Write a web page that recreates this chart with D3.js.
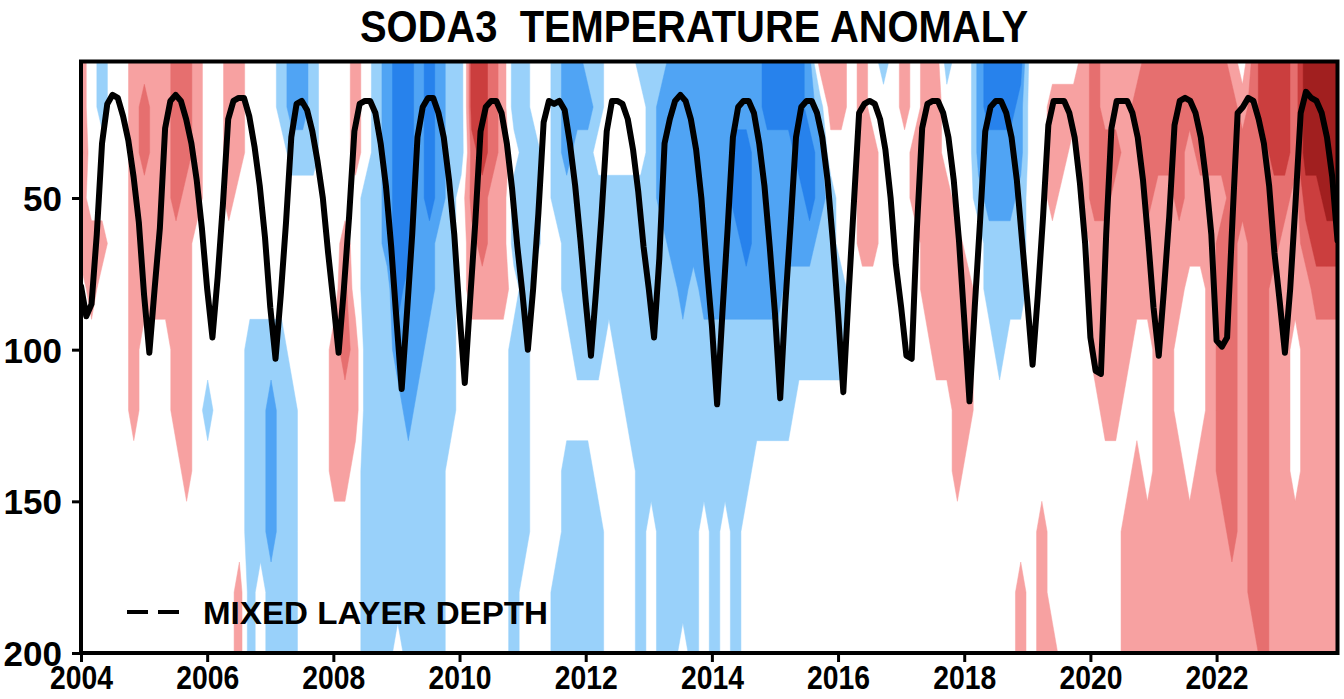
<!DOCTYPE html>
<html><head><meta charset="utf-8">
<script src="https://cdn.jsdelivr.net/npm/d3@7"></script>
<style>body{margin:0;background:#fff}svg{display:block}</style>
</head><body>
<svg id="c" width="1344" height="699"></svg>
<script>
// ---------------- DATA ----------------
const titleText = "SODA3  TEMPERATURE ANOMALY";
const legendText = "MIXED LAYER DEPTH";
const yearTicks = [2004, 2006, 2008, 2010, 2012, 2014, 2016, 2018, 2020, 2022];
const depthTicks = [50, 100, 150, 200];
const depths = [5, 20, 35, 50, 65, 80, 100, 120, 140, 160, 180, 200];

// Mixed layer depth (m), monthly Jan..Dec
const mld2004 = [79, 89, 85, 62, 32, 19, 16, 17, 23, 31, 43, 58];
const mld2005 = [82, 101, 80, 60, 27, 18, 16, 18, 24, 32, 44, 60];
const mld2006 = [80, 96, 76, 52, 24, 18, 17, 17, 23, 33, 46, 63];
const mld2007 = [86, 103, 82, 58, 30, 19, 18, 21, 28, 38, 50, 68];
const mld2008 = [84, 101, 80, 56, 28, 19, 18, 18, 22, 32, 46, 66];
const mld2009 = [90, 113, 88, 62, 30, 20, 17, 17, 22, 30, 44, 62];
const mld2010 = [88, 111, 84, 58, 28, 20, 18, 18, 22, 32, 47, 66];
const mld2011 = [82, 100, 80, 55, 25, 18, 19, 18, 21, 32, 46, 64];
const mld2012 = [84, 102, 80, 56, 28, 18, 18, 19, 24, 34, 48, 66];
const mld2013 = [80, 96, 70, 32, 24, 18, 16, 18, 24, 34, 50, 72];
const mld2014 = [92, 118, 88, 60, 30, 20, 18, 18, 22, 32, 46, 66];
const mld2015 = [88, 116, 84, 58, 30, 20, 18, 18, 22, 30, 44, 64];
const mld2016 = [88, 114, 82, 52, 22, 19, 18, 19, 24, 34, 50, 72];
const mld2017 = [86, 102, 103, 60, 27, 19, 18, 18, 22, 30, 44, 64];
const mld2018 = [90, 117, 86, 58, 28, 20, 18, 18, 22, 30, 44, 64];
const mld2019 = [84, 105, 82, 56, 26, 18, 18, 18, 22, 30, 45, 65];
const mld2020 = [96, 107, 108, 62, 27, 18, 18, 18, 22, 30, 44, 64];
const mld2021 = [86, 102, 80, 56, 26, 18, 17, 18, 22, 30, 44, 62];
const mld2022 = [97, 99, 96, 58, 22, 20, 17, 18, 24, 32, 46, 68];
const mld2023 = [84, 101, 80, 52, 22, 15, 17, 18, 22, 30, 43, 64];

// Temperature anomaly (0.1 °C), bimonthly profiles, each at depths[]
const anom2004 = [
 [4,4,6,4,4,0,0,0,0,0,0,0],[0,0,0,0,4,4,0,0,0,0,0,0],[-4,-4,0,0,4,0,0,0,0,0,0,0],
 [0,0,0,0,0,0,0,0,0,0,0,0],[0,0,0,0,0,0,0,0,0,0,0,0],[4,4,4,4,4,4,4,4,0,0,0,0]];
const anom2005 = [
 [4,6,6,4,4,4,0,0,0,0,0,0],[4,4,4,4,4,4,0,0,0,0,0,0],[4,4,4,4,4,4,0,0,0,0,0,0],
 [6,6,6,6,4,4,4,4,0,0,0,0],[6,6,6,4,4,4,4,4,4,0,0,0],[4,4,4,4,0,0,0,0,0,0,0,0]];
const anom2006 = [
 [0,0,0,0,0,0,0,-4,0,0,0,0],[0,0,0,0,0,0,0,0,0,0,0,0],[4,4,4,4,0,0,0,0,0,0,0,0],
 [4,4,4,0,0,0,0,0,0,0,4,4],[0,0,0,0,0,0,-4,-4,-4,-4,-4,-4],[0,0,0,0,0,0,-4,-4,-4,-4,0,0]];
const anom2007 = [
 [0,0,0,0,0,0,-4,-6,-6,-6,-4,-4],[-4,-4,0,0,0,0,-4,-4,-4,-4,-4,-4],[-6,-6,-4,0,0,0,0,-4,-4,-4,-4,-4],
 [-6,-6,-4,0,0,0,0,0,0,0,0,0],[-4,-4,-4,0,0,0,0,0,0,0,0,0],[0,0,0,0,0,0,0,0,0,0,0,0]];
const anom2008 = [
 [0,0,0,0,0,0,4,4,4,0,0,0],[0,0,0,0,4,6,6,4,4,0,0,0],[4,4,4,0,0,0,4,4,0,0,0,0],
 [0,0,0,-4,-4,-4,-4,-4,-4,-4,-4,-4],[-4,-4,-4,-4,-4,-4,-4,-4,-4,-4,-4,-4],[-6,-6,-6,-6,-6,-4,-4,-4,-4,-4,-4,-4]];
const anom2009 = [
 [-8,-8,-8,-8,-8,-8,-6,-4,-4,-4,-4,0],[-8,-8,-8,-8,-8,-6,-6,-6,-4,-4,-4,-4],[-6,-6,-6,-6,-6,-6,-6,-4,-4,-4,-4,-4],
 [-8,-8,-8,-8,-6,-6,-4,-4,-4,-4,-4,-4],[-6,-6,-6,-6,-4,-4,-4,-4,-4,-4,-4,-4],[-4,-4,-4,-4,-4,-4,-4,-4,0,0,0,0]];
const anom2010 = [
 [-4,-4,-4,0,0,0,0,0,0,0,0,0],[8,8,6,6,4,4,0,0,0,0,0,0],[8,8,8,6,6,4,0,0,0,0,0,0],
 [6,6,6,4,4,4,0,0,0,0,0,0],[4,4,4,4,4,4,0,0,0,0,0,0],[-4,-4,0,-4,-4,0,-4,-4,-4,-4,-4,-4]];
const anom2011 = [
 [-4,-4,-4,-4,-4,-4,-4,-4,-4,-4,0,0],[0,0,-4,-4,-4,0,0,0,0,0,0,0],[0,0,0,0,0,0,0,0,0,0,0,0],
 [-4,-4,-4,-4,0,0,0,0,0,0,-4,-4],[-6,-6,-6,-4,-4,-4,0,0,-4,-4,-4,-4],[-6,-6,-4,-4,-4,-4,-4,0,-4,-4,-4,-4]];
const anom2012 = [
 [-4,-6,-4,-4,-4,-4,-4,0,-4,-4,-4,-4],[-4,-4,0,-4,-4,-4,-4,0,0,-4,-4,-4],[0,0,0,-4,-4,-4,0,0,0,0,0,0],
 [0,0,0,-4,-4,-4,-4,0,0,0,0,0],[0,0,0,-4,-4,-4,-4,-4,0,0,0,0],[-4,0,0,-4,-4,-4,-4,-4,-4,-4,-4,-4]];
const anom2013 = [
 [-4,-4,-4,-4,-4,-4,-4,-4,-4,0,0,0],[-4,-6,-6,-6,-4,-4,-4,-4,-4,-4,-4,-4],[-6,-6,-6,-6,-6,-4,-4,-4,-4,-4,-4,-4],
 [-6,-6,-6,-6,-6,-6,-4,-4,-4,-4,-4,0],[-6,-6,-6,-6,-6,-4,-4,-4,-4,-4,-4,-4],[-6,-6,-6,-6,-6,-6,-4,-4,-4,0,0,0]];
const anom2014 = [
 [-6,-6,-6,-6,-6,-6,-4,-4,-4,-4,-4,-4],[-6,-6,-6,-6,-6,-6,-4,-4,-4,0,0,0],[-6,-6,-8,-8,-6,-6,-4,-4,-4,-4,-4,-4],
 [-6,-6,-8,-8,-8,-6,-4,-4,-4,0,0,0],[-6,-6,-6,-6,-6,-6,-4,-4,0,0,0,0],[-8,-8,-6,-6,-6,-6,-4,-4,0,0,0,0]];
const anom2015 = [
 [-8,-8,-6,-6,-6,-6,-4,-4,0,0,0,0],[-8,-8,-6,-6,-6,-4,-4,-4,0,0,0,0],[-8,-8,-8,-6,-6,-4,-4,0,0,0,0,0],
 [-6,-6,-8,-8,-6,-4,-4,0,0,0,0,0],[4,-4,-6,-6,-4,-4,-4,0,0,0,0,0],[4,4,0,-4,-4,-4,-4,0,0,0,0,0]];
const anom2016 = [
 [4,4,0,0,0,-4,-4,0,0,0,0,0],[0,0,0,0,0,0,0,0,0,0,0,0],[4,4,4,4,4,0,0,0,0,0,0,0],
 [0,0,4,4,4,0,0,0,0,0,0,0],[-4,0,0,0,0,0,0,0,0,0,0,0],[0,0,0,0,0,0,0,0,0,0,0,0]];
const anom2017 = [
 [4,4,0,0,0,0,0,0,0,0,0,0],[0,0,4,4,0,0,0,0,0,0,0,0],[4,4,4,4,4,4,0,0,0,0,0,0],
 [4,4,4,4,4,4,4,0,0,0,0,0],[-4,0,0,4,4,4,4,0,0,0,0,0],[0,0,0,0,4,4,4,4,4,0,0,0]];
const anom2018 = [
 [0,0,0,0,0,4,4,4,0,0,0,0],[-6,-6,-6,-4,0,0,0,0,0,0,0,0],[-8,-8,-6,-6,-4,-4,0,0,0,0,0,0],
 [-8,-8,-6,-6,-4,-4,-4,0,0,0,0,0],[-8,-8,-6,-6,-4,-4,0,0,0,0,0,0],[-8,-6,-6,-4,-4,-4,0,0,0,0,4,4]];
const anom2019 = [
 [0,0,0,0,0,0,0,0,0,0,0,0],[0,0,0,0,0,0,0,0,0,4,4,4],[0,4,4,4,0,0,0,0,0,0,0,4],
 [0,4,4,0,0,0,0,0,0,0,0,0],[0,4,0,0,0,0,0,0,0,0,0,0],[4,4,4,4,0,0,0,0,0,0,0,0]];
const anom2020 = [
 [6,6,6,6,4,4,4,0,0,0,0,0],[4,4,6,6,4,4,4,4,0,0,0,0],[4,4,6,4,4,4,4,4,0,0,0,0],
 [4,4,4,4,4,4,4,0,0,4,4,4],[4,6,4,4,4,4,0,0,4,4,4,4],[6,6,6,6,4,4,0,0,0,4,4,4]];
const anom2021 = [
 [6,6,6,4,4,4,4,4,4,4,4,4],[6,6,6,4,4,4,4,4,4,4,4,4],[6,6,6,6,4,4,0,0,4,4,4,4],
 [6,6,4,4,4,0,0,0,0,4,4,4],[6,6,6,4,4,0,0,0,4,4,4,4],[6,6,6,4,4,4,4,4,4,4,4,4]];
const anom2022 = [
 [6,6,6,4,6,6,6,6,6,4,4,4],[4,6,6,6,6,6,6,6,6,6,4,4],[0,4,6,6,4,4,4,4,4,4,4,4],
 [6,6,6,6,6,6,6,6,6,6,6,4],[8,8,6,6,6,6,6,6,6,6,6,6],[8,8,8,6,6,4,4,4,4,4,4,4]];
const anom2023 = [
 [8,8,8,6,4,4,4,4,4,4,4,4],[6,6,6,4,4,4,0,0,0,4,4,4],[10,10,10,8,6,4,4,4,4,4,4,4],
 [10,10,10,8,8,6,4,4,4,4,4,4],[10,10,10,10,8,6,4,4,4,4,4,4],[10,10,10,10,8,6,4,4,4,4,4,4]];

const warmLevels = [0.2, 0.5, 0.7, 0.9];
const warmColors = ["#f7a1a1", "#e66f6f", "#cb3e3e", "#a11f1f"];
const coolLevels = [0.2, 0.5, 0.7];
const coolColors = ["#99d1fa", "#50a4f4", "#2782ec"];

// ---------------- DRAW ----------------
const svg = d3.select("#c");
const P = {left: 81, right: 1337.5, top: 61.5, bottom: 653};
const tEnd = 2023 + 11 / 12;
const x = d3.scaleLinear().domain([2004, tEnd]).range([P.left, P.right]);
const y = d3.scaleLinear().domain([5, 200]).range([P.top, P.bottom]);

const cols = [].concat(anom2004, anom2005, anom2006, anom2007, anom2008, anom2009, anom2010,
  anom2011, anom2012, anom2013, anom2014, anom2015, anom2016, anom2017, anom2018, anom2019,
  anom2020, anom2021, anom2022, anom2023);
const n = cols.length, m = depths.length;
const vals = new Array(n * m);
for (let j = 0; j < m; j++) for (let i = 0; i < n; i++) vals[j * n + i] = cols[i][j] / 10;
const colTime = d3.scaleLinear().domain([0, n - 1]).range([2004, tEnd]);
const rowDepth = d3.scaleLinear().domain(d3.range(m)).range(depths);
const proj = d3.geoTransform({
  point(px, py) {
    const gx = Math.max(0, Math.min(n - 1, px - 0.5));
    const gy = Math.max(0, Math.min(m - 1, py - 0.5));
    this.stream.point(x(colTime(gx)), y(rowDepth(gy)));
  }
});
const path = d3.geoPath(proj);

svg.append("defs").append("clipPath").attr("id", "clip")
  .append("rect").attr("x", P.left).attr("y", P.top)
  .attr("width", P.right - P.left).attr("height", P.bottom - P.top);

const gField = svg.append("g").attr("clip-path", "url(#clip)");
const warm = d3.contours().size([n, m]).thresholds(warmLevels)(vals);
const cool = d3.contours().size([n, m]).thresholds(coolLevels)(vals.map(v => -v));
gField.selectAll("path.w").data(warm).join("path").attr("class", "w")
  .attr("d", path).attr("fill", (d, i) => warmColors[i]).attr("stroke", (d, i) => warmColors[i]).attr("stroke-width", 0.5);
gField.selectAll("path.c").data(cool).join("path").attr("class", "c")
  .attr("d", path).attr("fill", (d, i) => coolColors[i]).attr("stroke", (d, i) => coolColors[i]).attr("stroke-width", 0.5);

// mixed layer depth
const mldByYear = [mld2004, mld2005, mld2006, mld2007, mld2008, mld2009, mld2010, mld2011, mld2012, mld2013,
  mld2014, mld2015, mld2016, mld2017, mld2018, mld2019, mld2020, mld2021, mld2022, mld2023];
const mldSeries = [];
mldByYear.forEach((arr, k) => arr.forEach((v, mo) => mldSeries.push({t: 2004 + k + mo / 12, d: v})));
gField.append("path").datum(mldSeries)
  .attr("d", d3.line().x(d => x(d.t)).y(d => y(d.d)))
  .attr("fill", "none").attr("stroke", "#000").attr("stroke-width", 6)
  .attr("stroke-linejoin", "round").attr("stroke-linecap", "round");

// frame
svg.append("rect").attr("x", P.left).attr("y", P.top)
  .attr("width", P.right - P.left).attr("height", P.bottom - P.top)
  .attr("fill", "none").attr("stroke", "#000").attr("stroke-width", 4);

const font = "'Liberation Sans', Arial, sans-serif";
const yAx = svg.append("g").attr("transform", `translate(${P.left},0)`)
  .call(d3.axisLeft(y).tickValues(depthTicks).tickSize(9).tickPadding(10));
const xAx = svg.append("g").attr("transform", `translate(0,${P.bottom})`)
  .call(d3.axisBottom(x).tickValues(yearTicks).tickFormat(d3.format("d")).tickSize(9).tickPadding(3));
[yAx, xAx].forEach(g => {
  g.select(".domain").remove();
  g.selectAll(".tick line").attr("stroke", "#000").attr("stroke-width", 3);
  g.selectAll(".tick text").attr("fill", "#000").style("font-family", font).style("font-weight", "bold");
});
yAx.selectAll(".tick text").style("font-size", "35px").attr("dy", "0.36em");
xAx.selectAll(".tick text").style("font-size", "34px").attr("dy", "0.72em")
  .attr("textLength", 63).attr("lengthAdjust", "spacingAndGlyphs");

// title
svg.append("text").attr("x", 694).attr("y", 42).attr("text-anchor", "middle")
  .attr("textLength", 668).attr("lengthAdjust", "spacingAndGlyphs")
  .style("white-space", "pre")
  .style("font-family", font).style("font-size", "45px").style("font-weight", "bold").attr("fill", "#000")
  .text(titleText);

// legend
svg.append("line").attr("x1", 127).attr("x2", 179).attr("y1", 612).attr("y2", 612)
  .attr("stroke", "#000").attr("stroke-width", 4).attr("stroke-dasharray", "21,10");
svg.append("text").attr("x", 203).attr("y", 624)
  .attr("textLength", 345).attr("lengthAdjust", "spacingAndGlyphs")
  .style("font-family", font).style("font-size", "32px").style("font-weight", "bold").attr("fill", "#000")
  .text(legendText);
</script>
</body></html>
